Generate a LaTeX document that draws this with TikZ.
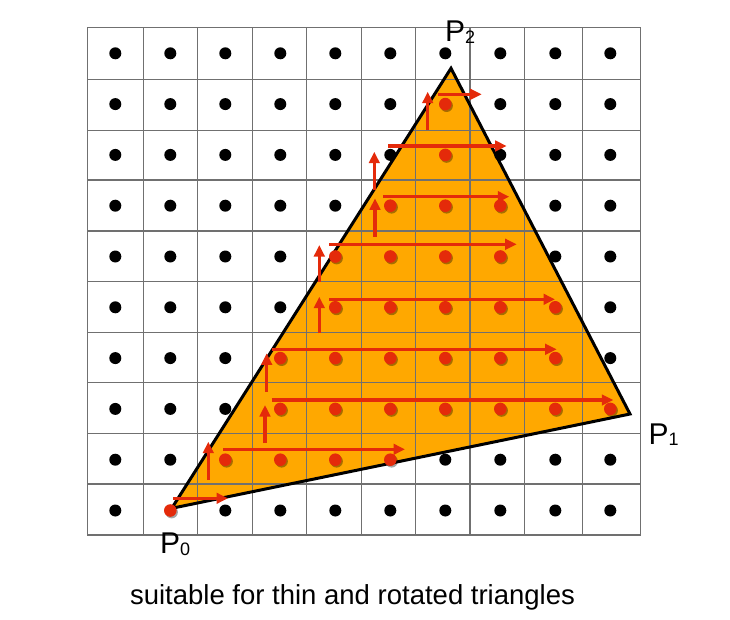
\documentclass[tikz,border=0pt]{standalone}
\usepackage{fontspec}
\setmainfont{Liberation Sans}
\usetikzlibrary{arrows.meta}
\definecolor{trifill}{RGB}{255,168,0}
\definecolor{ptred}{RGB}{228,42,10}
\definecolor{gridgray}{RGB}{112,112,112}
\begin{document}
\begin{tikzpicture}[x=1pt,y=-1pt,
  gridline/.style={draw=gridgray,line width=1.15pt},
  scanarrow/.style={draw=ptred,line width=3.5pt,-{Triangle[length=11.5pt,width=10.5pt]}},
  lbl/.style={inner sep=0pt,anchor=base west,font=\fontsize{30}{30}\selectfont}]
\useasboundingbox (0,0) rectangle (730,619);
% triangle vertices
\coordinate (P0) at (171.7,508.3);
\coordinate (P1) at (630,414);
\coordinate (P2) at (451,68.3);
\fill[trifill] (P0) -- (P1) -- (P2) -- cycle;
% grid
\foreach \x in {87.3,143.3,197.3,252.3,306.7,361.3,415.7,470,524.3,582.3,640.7}
  \draw[gridline] (\x,27.3) -- (\x,535);
\foreach \y in {27.3,79.3,130.3,180,231,281.7,332.3,382.7,433.3,484,535}
  \draw[gridline] (87.3,\y) -- (640.7,\y);
% triangle border
\draw[line width=3pt,line join=miter] (P0) -- (P1) -- (P2) -- cycle;
% sample points: row / first red column / last red column
\foreach \r/\a/\b in {0/10/-1,1/6/6,2/6/6,3/5/7,4/4/7,5/4/8,6/3/8,7/3/9,8/2/5,9/1/1}{
  \foreach \c in {0,...,9}{
    \pgfmathsetmacro{\px}{115.3+55*\c}
    \pgfmathsetmacro{\py}{53.3+50.8*\r}
    \ifnum\c<\a
      \fill[black] (\px,\py) circle (6pt);
    \else\ifnum\c>\b
      \fill[black] (\px,\py) circle (6pt);
    \else
      \fill[black,opacity=0.35] (\px+1.3,\py+1.6) circle (6.3pt);
      \fill[ptred] (\px,\py) circle (6.3pt);
    \fi\fi
  }
}
% scan arrows: horizontal
\draw[scanarrow] (173,498.3) -- (228,498.3);
\draw[scanarrow] (223,449.3) -- (405,449.3);
\draw[scanarrow] (271.7,400) -- (613.3,400);
\draw[scanarrow] (271.7,349.3) -- (556.7,349.3);
\draw[scanarrow] (329.3,299.3) -- (555,299.3);
\draw[scanarrow] (329.3,244.3) -- (516.7,244.3);
\draw[scanarrow] (383.3,196.7) -- (509.3,196.7);
\draw[scanarrow] (388.3,146) -- (506.7,146);
\draw[scanarrow] (438.3,94.3) -- (481.7,94.3);
% scan arrows: vertical steps
\draw[scanarrow] (208.3,480) -- (208.3,441.7);
\draw[scanarrow] (265,443) -- (265,405);
\draw[scanarrow] (266.7,391.7) -- (266.7,353.3);
\draw[scanarrow] (319.3,333.3) -- (319.3,296.7);
\draw[scanarrow] (319.3,281.7) -- (319.3,245);
\draw[scanarrow] (375,236.7) -- (375,198.3);
\draw[scanarrow] (374.3,190) -- (374.3,151.7);
\draw[scanarrow] (427.7,130) -- (427.7,91.7);
% labels
\node[lbl] (lP2) at (445,41.7) {P\raisebox{-1.7pt}{\fontsize{18}{18}\selectfont 2}};
\node[lbl] (lP1) at (648.3,444) {P\raisebox{-1.7pt}{\fontsize{18}{18}\selectfont 1}};
\node[lbl] (lP0) at (160,553.3) {P\raisebox{-1.7pt}{\fontsize{18}{18}\selectfont 0}};
\node[anchor=base,inner sep=0pt,font=\fontsize{27.5}{30}\selectfont] (caption) at (352.5,604.3) {suitable for thin and rotated triangles};
\end{tikzpicture}
\end{document}
